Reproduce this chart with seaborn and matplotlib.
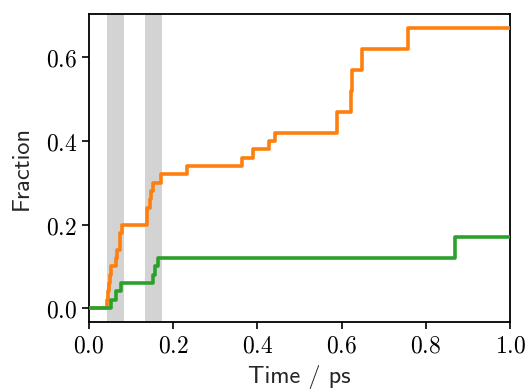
import pandas as pd
import seaborn as sns
import matplotlib.pyplot as plt

# step data (value holds until next time)
orange_t = [0.0, 0.044, 0.046, 0.048, 0.050, 0.053, 0.064, 0.066, 0.073, 0.075, 0.078,
            0.137, 0.139, 0.145, 0.147, 0.153, 0.171, 0.232, 0.363, 0.390, 0.428, 0.442,
            0.590, 0.621, 0.624, 0.648, 0.757, 1.0]
orange_f = [0.0, 0.02, 0.04, 0.06, 0.08, 0.10, 0.12, 0.14, 0.16, 0.18, 0.20,
            0.22, 0.24, 0.26, 0.28, 0.30, 0.32, 0.34, 0.36, 0.38, 0.40, 0.42,
            0.47, 0.52, 0.57, 0.62, 0.67, 0.67]

green_t = [0.0, 0.053, 0.065, 0.077, 0.152, 0.157, 0.165, 0.869, 1.0]
green_f = [0.0, 0.02, 0.04, 0.06, 0.08, 0.10, 0.12, 0.17, 0.17]

# shaded time windows
bands = [(0.044, 0.083), (0.133, 0.173)]

xticks = [0.0, 0.2, 0.4, 0.6, 0.8, 1.0]
yticks = [0.0, 0.2, 0.4, 0.6]

df = pd.concat([
    pd.DataFrame({'time': orange_t, 'fraction': orange_f, 'set': 'a'}),
    pd.DataFrame({'time': green_t, 'fraction': green_f, 'set': 'b'}),
])

sns.set_theme(style='ticks')
plt.rcParams['mathtext.fontset'] = 'cm'

fig = plt.figure(figsize=(5.26, 3.9), dpi=100)
ax = fig.add_axes([0.169, 0.174, 0.801, 0.790])

for lo, hi in bands:
    ax.axvspan(lo, hi, color='lightgray', lw=0, zorder=0)

sns.lineplot(data=df, x='time', y='fraction', hue='set',
             palette={'a': '#ff7f0e', 'b': '#2ca02c'},
             drawstyle='steps-post', linewidth=2.6, legend=False, ax=ax, zorder=3)

ax.set_xlim(0, 1)
ax.set_ylim(-0.0335, 0.7035)
ax.set_xticks(xticks)
ax.set_yticks(yticks)
ax.set_xticklabels([f'${v:.1f}$' for v in xticks], fontsize=17)
ax.set_yticklabels([f'${v:.1f}$' for v in yticks], fontsize=17)
ax.tick_params(direction='out', length=5, width=1.2, colors='black')
for s in ax.spines.values():
    s.set_linewidth(1.3)
    s.set_color('black')

ax.set_xlabel('Time / ps', fontsize=17.5, family='cmss10', labelpad=5)
ax.set_ylabel('Fraction', fontsize=17.5, family='cmss10', labelpad=9)

fig.savefig('out.png', dpi=100)
